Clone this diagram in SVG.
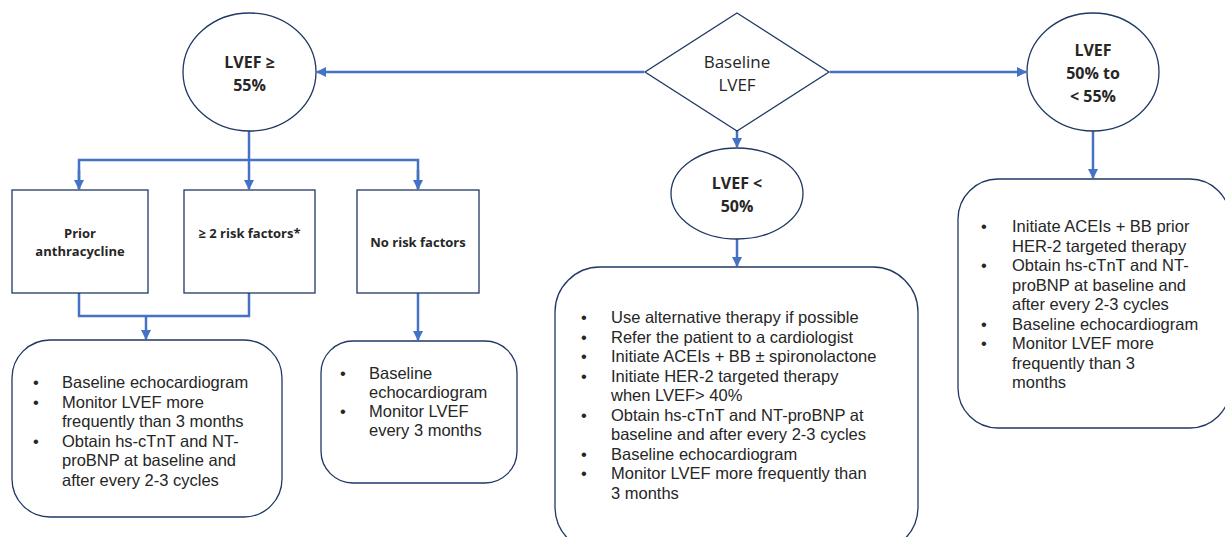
<svg xmlns="http://www.w3.org/2000/svg" width="1225" height="537" viewBox="0 0 1225 537">
<style>
.n{fill:#fff;stroke:#1f3864;stroke-width:1.3}
.c{fill:none;stroke:#4472c4;stroke-width:2.5}
.t{font-family:"Open Sans","Noto Sans",sans-serif;fill:#262626}
.b{font-weight:bold}
.l{font-family:"Liberation Sans",Arial,sans-serif;font-size:16.5px;fill:#262626}
</style>
<defs>
<marker id="a" viewBox="0 0 10 10" refX="9" refY="5" markerWidth="4" markerHeight="4" orient="auto" markerUnits="strokeWidth">
<path d="M0,0 L10,5 L0,10 z" fill="#4472c4"/>
</marker>
</defs>
<rect width="1225" height="537" fill="#fff"/>
<g id="connectors">
<line class="c" x1="644" y1="72" x2="317" y2="72" marker-end="url(#a)"/>
<line class="c" x1="830" y1="72" x2="1026" y2="72" marker-end="url(#a)"/>
<line class="c" x1="737" y1="131" x2="737" y2="147" marker-end="url(#a)"/>
<line class="c" x1="737" y1="239" x2="737" y2="266" marker-end="url(#a)"/>
<line class="c" x1="1093" y1="131" x2="1093" y2="178" marker-end="url(#a)"/>
<line class="c" x1="249" y1="131" x2="249" y2="189" marker-end="url(#a)"/>
<polyline class="c" points="79,189 79,160 418,160 418,189"/>
<line class="c" x1="79" y1="170" x2="79" y2="189" marker-end="url(#a)"/>
<line class="c" x1="418" y1="170" x2="418" y2="189" marker-end="url(#a)"/>
<polyline class="c" points="79,293 79,316 249,316 249,293"/>
<line class="c" x1="146" y1="316" x2="146" y2="339" marker-end="url(#a)"/>
<line class="c" x1="418" y1="293" x2="418" y2="340" marker-end="url(#a)"/>
</g>
<g id="baseline">
<polygon class="n" points="737,13 829,72 737,131 645,72"/>
<text class="t" x="737" y="68" text-anchor="middle" font-size="17">Baseline</text>
<text class="t" x="737" y="91" text-anchor="middle" font-size="17">LVEF</text>
</g>
<g id="lvef55">
<ellipse class="n" cx="249.5" cy="72" rx="66.5" ry="59"/>
<text class="t b" x="249.5" y="68" text-anchor="middle" font-size="16">LVEF ≥</text>
<text class="t b" x="249.5" y="91" text-anchor="middle" font-size="16">55%</text>
</g>
<g id="lvef50to55">
<ellipse class="n" cx="1093" cy="72" rx="66" ry="59"/>
<text class="t b" x="1093" y="56" text-anchor="middle" font-size="16">LVEF</text>
<text class="t b" x="1093" y="79" text-anchor="middle" font-size="16">50% to</text>
<text class="t b" x="1093" y="102" text-anchor="middle" font-size="16">&lt; 55%</text>
</g>
<g id="lvef50">
<ellipse class="n" cx="737" cy="193.5" rx="66" ry="45.5"/>
<text class="t b" x="737" y="189" text-anchor="middle" font-size="16">LVEF &lt;</text>
<text class="t b" x="737" y="212" text-anchor="middle" font-size="16">50%</text>
</g>
<g id="prior">
<rect class="n" x="12" y="190" width="136" height="103"/>
<text class="t b" x="80" y="238" text-anchor="middle" font-size="13">Prior</text>
<text class="t b" x="80" y="256" text-anchor="middle" font-size="13">anthracycline</text>
</g>
<g id="risk2">
<rect class="n" x="184" y="190" width="131" height="103"/>
<text class="t b" x="249.5" y="238" text-anchor="middle" font-size="13">≥ 2 risk factors*</text>
</g>
<g id="norisk">
<rect class="n" x="357" y="190" width="122" height="103"/>
<text class="t b" x="418" y="247" text-anchor="middle" font-size="13">No risk factors</text>
</g>
<g id="box-high" class="l">
<rect class="n" x="12" y="340" width="270" height="177" rx="38"/>
<text x="33" y="388">•</text><text x="62" y="388">Baseline echocardiogram</text>
<text x="33" y="407.5">•</text><text x="62" y="407.5">Monitor LVEF more</text>
<text x="62" y="427">frequently than 3 months</text>
<text x="33" y="446.5">•</text><text x="62" y="446.5">Obtain hs-cTnT and NT-</text>
<text x="62" y="466">proBNP at baseline and</text>
<text x="62" y="485.5">after every 2-3 cycles</text>
</g>
<g id="box-low" class="l">
<rect class="n" x="321" y="341" width="196" height="142" rx="32"/>
<text x="340" y="379">•</text><text x="369" y="379">Baseline</text>
<text x="369" y="398">echocardiogram</text>
<text x="340" y="417">•</text><text x="369" y="417">Monitor LVEF</text>
<text x="369" y="436">every 3 months</text>
</g>
<g id="box-reduced" class="l">
<rect class="n" x="555" y="267" width="363" height="285" rx="45"/>
<text x="581" y="323">•</text><text x="611" y="323">Use alternative therapy if possible</text>
<text x="581" y="342.5">•</text><text x="611" y="342.5">Refer the patient to a cardiologist</text>
<text x="581" y="362">•</text><text x="611" y="362">Initiate ACEIs + BB ± spironolactone</text>
<text x="581" y="381.5">•</text><text x="611" y="381.5">Initiate HER-2 targeted therapy</text>
<text x="611" y="401">when LVEF&gt; 40%</text>
<text x="581" y="420.5">•</text><text x="611" y="420.5">Obtain hs-cTnT and NT-proBNP at</text>
<text x="611" y="440">baseline and after every 2-3 cycles</text>
<text x="581" y="459.5">•</text><text x="611" y="459.5">Baseline echocardiogram</text>
<text x="581" y="479">•</text><text x="611" y="479">Monitor LVEF more frequently than</text>
<text x="611" y="498.5">3 months</text>
</g>
<g id="box-mid" class="l">
<rect class="n" x="958" y="179" width="272" height="249" rx="40"/>
<text x="981" y="232">•</text><text x="1012" y="232">Initiate ACEIs + BB prior</text>
<text x="1012" y="251.5">HER-2 targeted therapy</text>
<text x="981" y="271">•</text><text x="1012" y="271">Obtain hs-cTnT and NT-</text>
<text x="1012" y="290.5">proBNP at baseline and</text>
<text x="1012" y="310">after every 2-3 cycles</text>
<text x="981" y="329.5">•</text><text x="1012" y="329.5">Baseline echocardiogram</text>
<text x="981" y="349">•</text><text x="1012" y="349">Monitor LVEF more</text>
<text x="1012" y="368.5">frequently than 3</text>
<text x="1012" y="388">months</text>
</g>
</svg>
